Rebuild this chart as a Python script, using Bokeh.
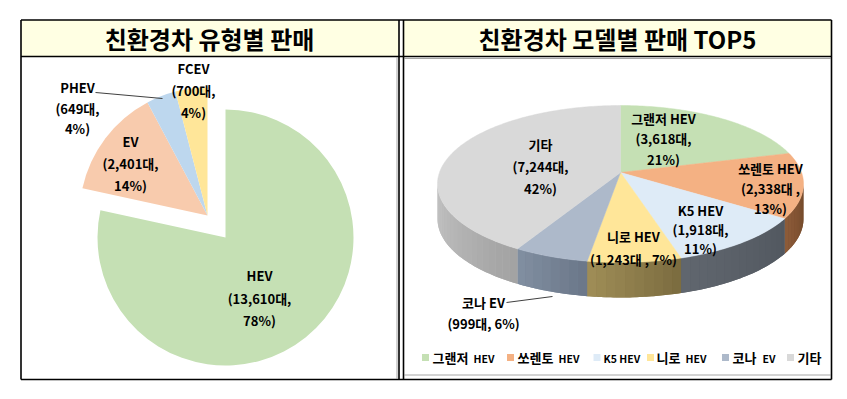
import math
from bokeh.plotting import figure
from bokeh.models import Range1d
from bokeh.embed import file_html
from bokeh.resources import INLINE
from bokeh.core.properties import value

# ---------------- data ----------------
left_title = "친환경차 유형별 판매"
right_title = "친환경차 모델별 판매 TOP5"

type_names = ["HEV", "EV", "PHEV", "FCEV"]
type_sales = [13610, 2401, 649, 700]
type_pcts = [78, 14, 4, 4]

model_names = ["그랜저 HEV", "쏘렌토 HEV", "K5 HEV", "니로 HEV", "코나 EV", "기타"]
model_sales = [3618, 2338, 1918, 1243, 999, 7244]
model_pcts = [21, 13, 11, 7, 6, 42]

# label formats (text layout only)
type_label_fmt = ["{n}\n({s:,}대,\n{p}%)"] * 4
model_label_fmt = ["{n}\n({s:,}대,\n{p}%)", "{n}\n({s:,}대 ,\n{p}%)", "{n}\n({s:,}대,\n{p}%)",
                   "{n}\n({s:,}대 , {p}%)", "{n}\n({s:,}대, {p}%)", "{n}\n({s:,}대,\n{p}%)"]

# ---------------- styles / layout ----------------
FONT = "Noto Sans CJK KR"
type_colors = ["#C5E0B4", "#F8CBAD", "#BDD7EE", "#FFE699"]
model_colors = ["#C5E0B4", "#F4B183", "#DEEBF7", "#FFE699", "#ADB9CA", "#D9D9D9"]
side_right = ["#5E7A4E", "#6E4629", "#52585F", "#7A6B3F", "#6A7688", "#A2A2A2"]
side_left = ["#5E7A4E", "#8E5C39", "#60666F", "#A08E57", "#8290A2", "#C6C6C6"]
HEADER_FILL = "#FFFFE3"

W, H = 847, 399


def Y(r):
    return H - r


p = figure(width=W, height=H, x_range=Range1d(0, W), y_range=Range1d(0, H),
           output_backend="svg", toolbar_location=None, min_border=0,
           x_axis_location=None, y_axis_location=None)
p.grid.visible = False
p.outline_line_color = None
p.background_fill_color = "white"

# ---------------- frames ----------------
p.quad(left=[21, 403.5], right=[398, 831], top=[Y(19.5), Y(19.5)], bottom=[Y(56), Y(56)],
       fill_color=HEADER_FILL, line_color=None)
p.segment(x0=[396.5, 404, 404], y0=[Y(57), Y(58), Y(374.5)],
          x1=[396.5, 830, 830], y1=[Y(378), Y(58), Y(374.5)],
          line_color="#A6A6A6", line_width=1)
bx0 = [20.5, 20.5, 20.5, 20.5, 831, 398.5, 403]
by0 = [19.5, 56, 379, 19.5, 19.5, 19.5, 19.5]
bx1 = [831, 831, 831, 20.5, 831, 398.5, 403]
by1 = [19.5, 56, 379, 379, 379, 379, 379]
p.segment(x0=bx0, y0=[Y(v) for v in by0], x1=bx1, y1=[Y(v) for v in by1],
          line_color="black", line_width=1.6)

p.text(x=[209, 617], y=[Y(37.5), Y(37.5)], text=[left_title, right_title],
       text_font=value(FONT), text_font_style="bold", text_font_size="24px",
       text_align="center", text_baseline="middle", text_color="black")

# ---------------- left pie (exploded) ----------------
tot = sum(type_sales)
starts, ends = [], []
cum = 0.0
for v in type_sales:
    starts.append(math.pi / 2 - 2 * math.pi * cum)
    cum += v / tot
    ends.append(math.pi / 2 - 2 * math.pi * cum)
pie_x = [225, 207, 207, 207]
pie_y = [Y(237), Y(215), Y(215), Y(215)]
p.wedge(x=pie_x, y=pie_y, radius=128, start_angle=starts, end_angle=ends,
        direction="clock", fill_color=type_colors, line_color=None)

p.line(x=[95, 162], y=[Y(92), Y(98)], line_color="#404040", line_width=1)

type_lab_pos = [(259, 275, 22.5), (130, 141, 22), (77, 87, 20.5), (193, 68, 22)]
tx, ty, tt = [], [], []
for i in range(4):
    lines = type_label_fmt[i].format(n=type_names[i], s=type_sales[i], p=type_pcts[i]).split("\n")
    x0, y0, dy = type_lab_pos[i]
    for k, ln in enumerate(lines):
        tx.append(x0); ty.append(Y(y0 + k * dy)); tt.append(ln)
p.text(x=tx, y=ty, text=tt, text_font=value(FONT), text_font_style="bold",
       text_font_size="13px", text_align="center", text_baseline="middle", text_color="black")

# ---------------- right 3D pie ----------------
PCX, PCY, PA, PB, PK, DEPTH = 620, 172, 181, 76.8, 0.1465, 35


def proj(phi, d=0.0):
    u, v = math.sin(phi), math.cos(phi)
    s = 1.0 / (1.0 + PK * v)
    return PCX + PA * u * s, Y(PCY - PB * v * s + d)


def mix(c1, c2, t):
    a = [int(c1[i:i + 2], 16) for i in (1, 3, 5)]
    b = [int(c2[i:i + 2], 16) for i in (1, 3, 5)]
    return "#%02X%02X%02X" % tuple(int(round(a[j] + (b[j] - a[j]) * t)) for j in range(3))


def side_poly(p0, p1, steps):
    top = [proj(p0 + (p1 - p0) * k / steps) for k in range(steps + 1)]
    bot = [proj(p0 + (p1 - p0) * k / steps, DEPTH) for k in range(steps, -1, -1)]
    pts = top + bot
    return [q[0] for q in pts], [q[1] for q in pts]


mtot = sum(model_sales)
spans = []
cum = 0.0
for v in model_sales:
    a = 2 * math.pi * cum
    cum += v / mtot
    spans.append((a, 2 * math.pi * cum))

vis_lo = math.acos(-PK)
vis_hi = 2 * math.pi - vis_lo
bxs, bys, bcol = [], [], []
sxs, sys_, scol = [], [], []
for i, (a, b) in enumerate(spans):
    lo, hi = max(a, vis_lo), min(b, vis_hi)
    if lo >= hi:
        continue
    xs_, ys_ = side_poly(lo, hi, 40)
    bxs.append(xs_); bys.append(ys_); bcol.append(mix(side_right[i], side_left[i], 0.5))
    n = max(2, int((hi - lo) / math.radians(2.5)))
    for k in range(n):
        p0 = lo + (hi - lo) * k / n
        p1 = lo + (hi - lo) * (k + 1) / n
        xs_, ys_ = side_poly(p0, p1, 2)
        sxs.append(xs_); sys_.append(ys_); scol.append(mix(side_right[i], side_left[i], (k + 0.5) / n))
p.patches(xs=bxs, ys=bys, fill_color=bcol, line_color=None)
p.patches(xs=sxs, ys=sys_, fill_color=scol, line_color=None)

txs, tys = [], []
for (a, b) in spans:
    n = max(3, int((b - a) / math.radians(1)))
    pts = [proj(a + (b - a) * k / n) for k in range(n + 1)]
    txs.append([PCX] + [q[0] for q in pts])
    tys.append([Y(PCY)] + [q[1] for q in pts])
p.patches(xs=txs, ys=tys, fill_color=model_colors, line_color=model_colors, line_width=0.5)

p.line(x=[506, 552], y=[Y(302), Y(296)], line_color="#404040", line_width=1)

model_lab_pos = [(663, 117.5, 20.5), (770, 167.5, 20), (700, 210, 19), (633, 236, 23),
                 (483, 302, 21), (540, 144, 22)]
mx, my, mt = [], [], []
for i in range(6):
    lines = model_label_fmt[i].format(n=model_names[i], s=model_sales[i], p=model_pcts[i]).split("\n")
    x0, y0, dy = model_lab_pos[i]
    for k, ln in enumerate(lines):
        mx.append(x0); my.append(Y(y0 + k * dy)); mt.append(ln)
p.text(x=mx, y=my, text=mt, text_font=value(FONT), text_font_style="bold",
       text_font_size="13px", text_align="center", text_baseline="middle", text_color="black")

# ---------------- legend ----------------
leg_y = 357
leg_sq_x = [425, 510, 596.5, 650, 725, 790]
leg_kr_x = [432, 517, 603, 656, 732, 797]       # first word
leg_en_x = [473, 558, None, 685, 762, None]     # second word
kr_x, kr_t, en_x, en_t = [], [], [], []
for i, name in enumerate(model_names):
    if name.isascii():
        en_x.append(leg_kr_x[i]); en_t.append(name)
        continue
    parts = name.split(" ")
    kr_x.append(leg_kr_x[i]); kr_t.append(parts[0])
    if len(parts) > 1:
        en_x.append(leg_en_x[i]); en_t.append(parts[1])
p.scatter(x=leg_sq_x, y=[Y(leg_y)] * 6, marker="square", size=7,
          fill_color=model_colors, line_color=None)
p.text(x=kr_x, y=[Y(leg_y)] * len(kr_x), text=kr_t, text_font=value(FONT),
       text_font_style="bold", text_font_size="13px", text_align="left",
       text_baseline="middle", text_color="black")
p.text(x=en_x, y=[Y(leg_y + 0.5)] * len(en_x), text=en_t, text_font=value(FONT),
       text_font_style="bold", text_font_size="10.5px", text_align="left",
       text_baseline="middle", text_color="black")

open("out.html", "w").write(file_html(p, INLINE))
